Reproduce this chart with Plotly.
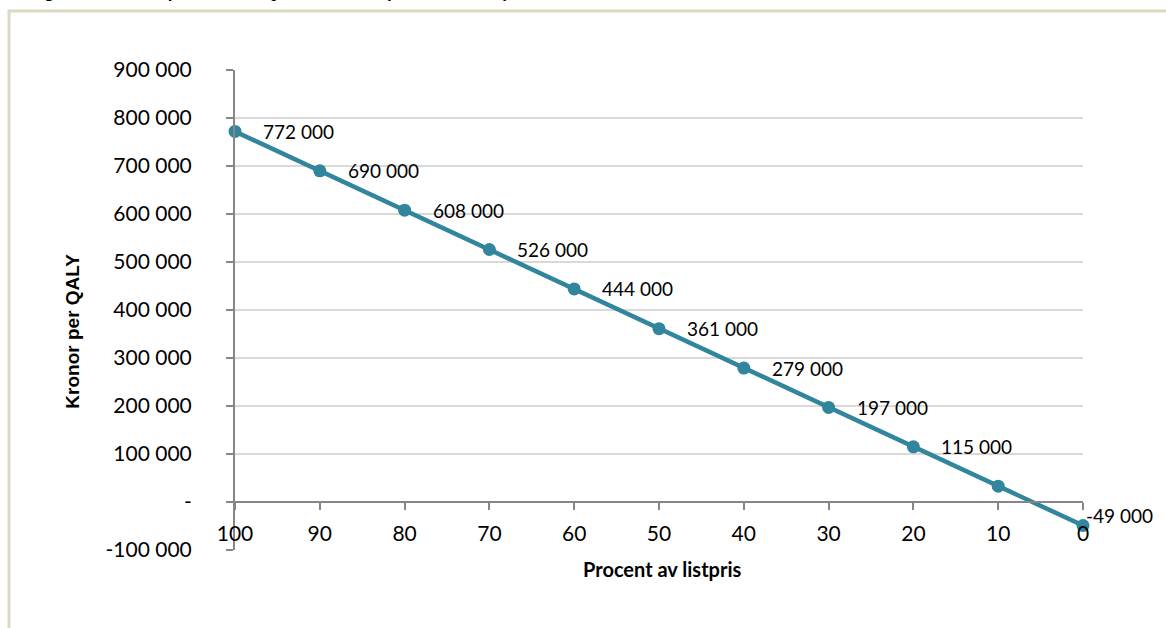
import plotly.graph_objects as go

# Data
procent = [100, 90, 80, 70, 60, 50, 40, 30, 20, 10, 0]
kronor_per_qaly = [772000, 690000, 608000, 526000, 444000, 361000, 279000, 197000, 115000, 33000, -49000]
data_labels = ["772 000", "690 000", "608 000", "526 000", "444 000", "361 000",
               "279 000", "197 000", "115 000", "", "-49 000"]
y_tickvals = [900000, 800000, 700000, 600000, 500000, 400000, 300000, 200000, 100000, 0, -100000]
y_ticktext = ["900 000", "800 000", "700 000", "600 000", "500 000", "400 000",
              "300 000", "200 000", "100 000", "-", "-100 000"]
x_tickvals = [100, 90, 80, 70, 60, 50, 40, 30, 20, 10, 0]
x_ticktext = ["100", "90", "80", "70", "60", "50", "40", "30", "20", "10", "0"]

FONT = "Lato, Open Sans, sans-serif"
LINE = "#31859C"
AXIS = "#868686"

fig = go.Figure()
fig.add_trace(go.Scatter(
    x=procent, y=kronor_per_qaly, mode="lines+markers",
    line=dict(color=LINE, width=4.5),
    marker=dict(color=LINE, size=13),
    cliponaxis=False, showlegend=False, hoverinfo="skip",
))

annotations = []
for i, (xv, yv, lab) in enumerate(zip(procent, kronor_per_qaly, data_labels)):
    if not lab:
        continue
    xs, ys = 26, 0
    if i == len(procent) - 1:
        xs, ys = 1, 10
    annotations.append(dict(x=xv, y=yv, xref="x", yref="y", text=lab, showarrow=False,
                            xanchor="left", yanchor="middle", xshift=xs, yshift=ys,
                            font=dict(family=FONT, size=19, color="#000")))

annotations.append(dict(x=0.503, y=-0.04, xref="paper", yref="paper", yanchor="middle",
                        text="<b>Procent av listpris</b>", showarrow=False,
                        font=dict(family=FONT, size=20, color="#000")))
annotations.append(dict(x=-0.191, y=0.455, xref="paper", yref="paper", textangle=-90,
                        xanchor="center", yanchor="middle",
                        text="<b>Kronor per QALY</b>", showarrow=False,
                        font=dict(family="Liberation Sans, Arial, sans-serif", size=19, color="#000")))
annotations.append(dict(x=-0.245, y=1.137, xref="paper", yref="paper", xanchor="left",
                        yanchor="bottom",
                        text="<b>Figur 3. Kostnad per vunnen QALY vid olika procent av listpris</b>",
                        showarrow=False,
                        font=dict(family="Liberation Sans, Arial, sans-serif", size=17, color="#000")))

fig.update_layout(
    width=1166, height=628,
    margin=dict(l=235, r=83, t=70, b=78),
    paper_bgcolor="white", plot_bgcolor="white",
    font=dict(family=FONT, size=21, color="#000"),
    xaxis=dict(range=[100, 0], tickvals=x_tickvals, ticktext=x_ticktext,
               anchor="free", position=0.1, showline=True, linecolor=AXIS, linewidth=2,
               ticks="outside", ticklen=7, tickcolor=AXIS, tickwidth=2,
               showgrid=False, zeroline=False, tickfont=dict(size=21, color="#000"),
               ticklabelstandoff=6),
    yaxis=dict(range=[-100000, 900000], tickvals=y_tickvals, ticktext=y_ticktext,
               showline=True, linecolor=AXIS, linewidth=2,
               ticks="outside", ticklen=7, tickcolor=AXIS, tickwidth=2,
               showgrid=True, gridcolor="#D9D9D9", gridwidth=2, zeroline=False,
               tickfont=dict(size=21, color="#000"), ticklabelstandoff=30),
    annotations=annotations,
    shapes=[
        dict(type="line", xref="paper", yref="paper", x0=0, x1=1, y0=0.1, y1=0.1,
             line=dict(color=AXIS, width=2), layer="below"),
        dict(type="rect", xref="paper", yref="paper", x0=-0.2665, x1=1.2, y0=-0.3, y1=1.123,
             line=dict(color="#DDD8C2", width=3), fillcolor="rgba(0,0,0,0)", layer="below"),
    ],
)

fig.write_html("out.html", config={"displayModeBar": False},
               post_script="document.body.style.margin='0';document.body.style.padding='0';")
